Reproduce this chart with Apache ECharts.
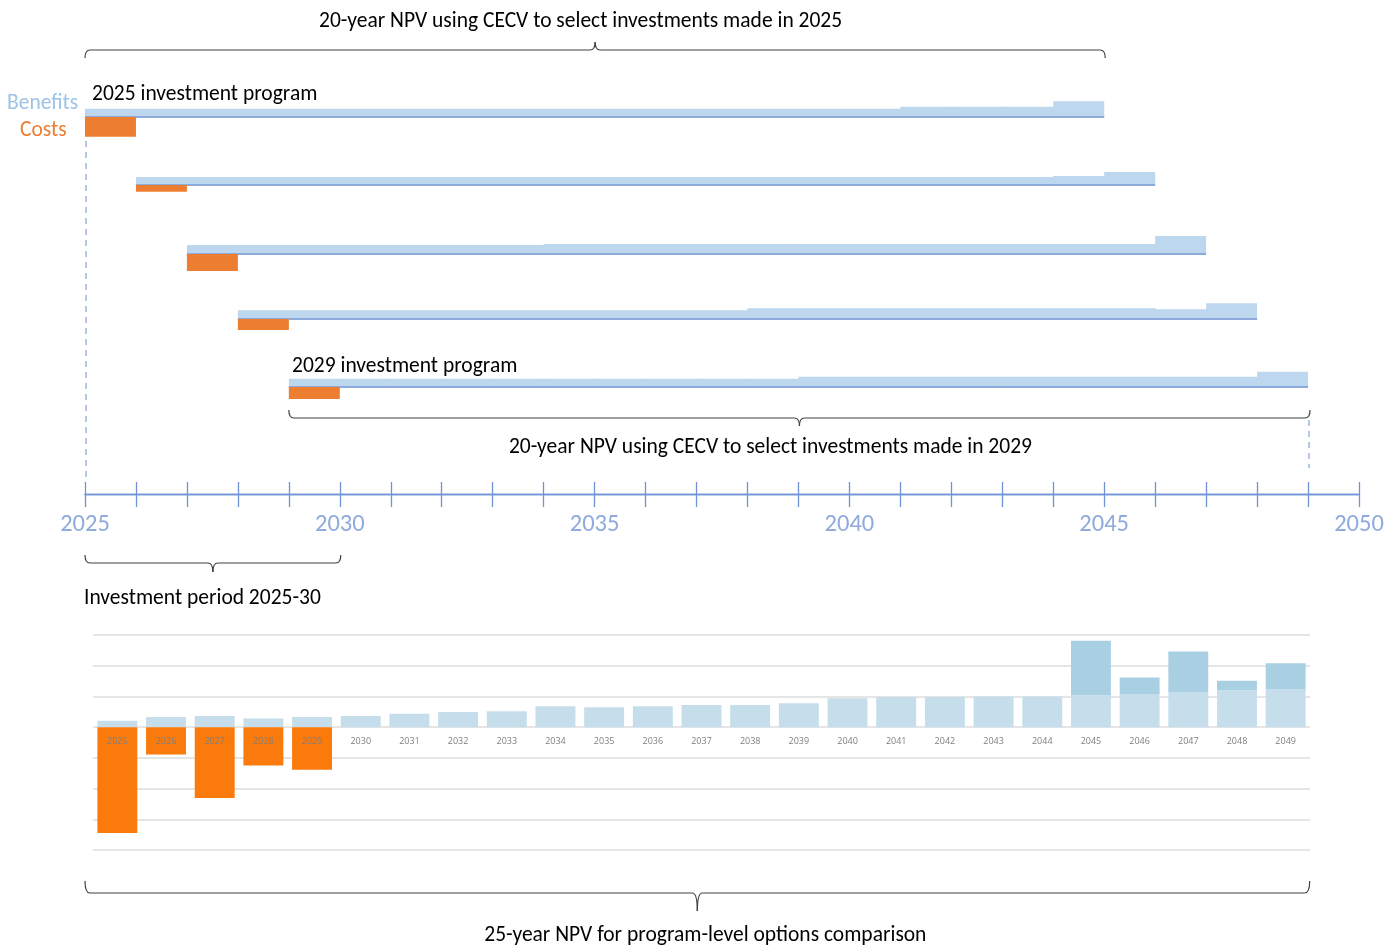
<!DOCTYPE html>
<html>
<head>
<meta charset="utf-8">
<title>Investment program NPV timeline</title>
<script src="https://cdn.jsdelivr.net/npm/echarts@6.0.0/dist/echarts.min.js"></script>
<style>
  html, body { margin: 0; padding: 0; background: #ffffff; }
  #chart { width: 1400px; height: 946px; }
</style>
</head>
<body>
<div id="chart"></div>
<script>
// ---- Timeline (years) ----
const timelineMin = 2025;
const timelineMax = 2050;
const timelineLabelStep = 5;

// ---- Investment programs: first year, yearly benefit profile (20 years), first-year cost ----
const programStarts = [2025, 2026, 2027, 2028, 2029];
const benefits2025 = [8.3, 8.3, 8.3, 8.3, 8.3, 8.3, 8.3, 8.3, 8.3, 8.3, 8.3, 8.3, 8.3, 8.3, 8.3, 8.3, 10.3, 10.3, 10.3, 15.7];
const benefits2026 = [8, 8, 8, 8, 8, 8, 8, 8, 8, 8, 8, 8, 8, 8, 8, 8, 8, 8, 9, 13];
const benefits2027 = [9, 9, 9, 9, 9, 9, 9, 10, 10, 10, 10, 10, 10, 10, 10, 10, 10, 10, 10, 18];
const benefits2028 = [8.7, 8.7, 8.7, 8.7, 8.7, 8.7, 8.7, 8.7, 8.7, 8.7, 10.7, 10.7, 10.7, 10.7, 10.7, 10.7, 10.7, 10.7, 9.7, 15.7];
const benefits2029 = [8.3, 8.3, 8.3, 8.3, 8.3, 8.3, 8.3, 8.3, 8.3, 8.3, 10.3, 10.3, 10.3, 10.3, 10.3, 10.3, 10.3, 10.3, 10.3, 15.3];
const programCosts = [19.7, 6.7, 17, 11, 12];

// ---- Program-level NPV comparison (25 years) ----
const npvYears = ['2025', '2026', '2027', '2028', '2029', '2030', '2031', '2032', '2033', '2034', '2035', '2036', '2037',
  '2038', '2039', '2040', '2041', '2042', '2043', '2044', '2045', '2046', '2047', '2048', '2049'];
const npvCosts = [-3.45, -0.89, -2.31, -1.25, -1.39, null, null, null, null, null, null, null, null,
  null, null, null, null, null, null, null, null, null, null, null, null];
const npvBenefitBase = [0.21, 0.33, 0.36, 0.28, 0.33, 0.36, 0.44, 0.49, 0.52, 0.68, 0.65, 0.68, 0.72,
  0.72, 0.78, 0.94, 0.98, 0.98, 1.0, 1.0, 1.04, 1.08, 1.13, 1.2, 1.24];
const npvBenefitExtra = [null, null, null, null, null, null, null, null, null, null, null, null, null,
  null, null, null, null, null, null, null, 1.77, 0.54, 1.33, 0.31, 0.84];
const npvAxisMin = -4, npvAxisMax = 3;

const programBenefits = [benefits2025, benefits2026, benefits2027, benefits2028, benefits2029];

// ---- Styling ----
const FONT = 'Carlito, Lato, "Open Sans", sans-serif';
const TEXT_SIZE = 21.5;
const C_BENEFIT = '#bdd7ee';
const C_BENEFIT_LINE = '#8eaadb';
const C_COST = '#ed7d31';
const C_AXIS = '#6f93d6';
const C_AXIS_LABEL = '#8faadc';
const C_BRACE = '#404040';

// Layout of the program rows (baseline of each row, in px)
const rowBaselines = [117, 185, 254, 319, 387];
const rowHalf = 25;
const plotLeft = 85, plotRight = 41;

const chart = echarts.init(document.getElementById('chart'), null, { renderer: 'canvas' });

const grids = [], xAxes = [], yAxes = [], series = [];

programStarts.forEach((start, i) => {
  grids.push({ left: plotLeft, right: plotRight, top: rowBaselines[i] - rowHalf, height: rowHalf * 2 });
  xAxes.push({ gridIndex: i, type: 'value', min: timelineMin, max: timelineMax, show: false });
  yAxes.push({ gridIndex: i, type: 'value', min: -rowHalf, max: rowHalf, show: false });

  const benefitData = programBenefits[i].map((v, k) => [start + k, v]);
  const end = start + programBenefits[i].length;

  // benefit blocks, one per year (slight overlap hides seams between years)
  series.push({
    type: 'custom', xAxisIndex: i, yAxisIndex: i, z: 3, silent: true,
    data: benefitData,
    renderItem: (params, api) => {
      const yr = api.value(0), v = api.value(1);
      const a = api.coord([yr, v]);
      const b = api.coord([yr + 1, 0]);
      const last = params.dataIndex === params.dataInsideLength - 1;
      return { type: 'rect',
        shape: { x: a[0], y: a[1], width: b[0] - a[0] + (last ? 0 : 1), height: b[1] - a[1] },
        style: { fill: C_BENEFIT } };
    }
  });
  // baseline under the benefits
  series.push({
    type: 'line', xAxisIndex: i, yAxisIndex: i, z: 4, silent: true, symbol: 'none',
    data: [[start, 0], [end, 0]],
    lineStyle: { color: C_BENEFIT_LINE, width: 2 }
  });
  // first-year cost hanging below the baseline
  series.push({
    type: 'custom', xAxisIndex: i, yAxisIndex: i, z: 5, silent: true,
    data: [[start, -programCosts[i]]],
    renderItem: (params, api) => {
      const yr = api.value(0), v = api.value(1);
      const a = api.coord([yr, 0]);
      const b = api.coord([yr + 1, v]);
      return { type: 'rect', shape: { x: a[0], y: a[1], width: b[0] - a[0], height: b[1] - a[1] },
        style: { fill: C_COST } };
    }
  });
});

// Timeline axis (ticks above and below the line)
const TL = grids.length;
grids.push({ left: plotLeft, right: plotRight, top: 494, height: 0 });
xAxes.push({
  gridIndex: TL, type: 'value', position: 'bottom', min: timelineMin, max: timelineMax, interval: 1,
  axisLine: { show: true, lineStyle: { color: C_AXIS, width: 1.3 } },
  axisTick: { show: true, length: 13, lineStyle: { color: C_AXIS, width: 1.3 } },
  splitLine: { show: false },
  axisLabel: {
    color: C_AXIS_LABEL, fontSize: 24.5, fontFamily: FONT, margin: 18, showMaxLabel: true, showMinLabel: true,
    formatter: v => (v % timelineLabelStep === 0 ? String(v) : '')
  }
});
const TL_X = xAxes.length - 1;
xAxes.push({
  gridIndex: TL, type: 'value', position: 'top', min: timelineMin, max: timelineMax, interval: 1,
  axisLine: { show: true, lineStyle: { color: C_AXIS, width: 1.3 } },
  axisTick: { show: true, length: 12, lineStyle: { color: C_AXIS, width: 1.3 } },
  splitLine: { show: false }, axisLabel: { show: false }
});
yAxes.push({ gridIndex: TL, type: 'value', show: false });

// Program-level NPV bar chart; the year labels sit on the zero line
const BC = grids.length;
const bcHeight = 215;
grids.push({ left: 93, right: 90, top: 635, height: bcHeight });
const BC_X = xAxes.length;
xAxes.push({
  gridIndex: BC, type: 'category', data: npvYears, z: 10, position: 'bottom',
  offset: -bcHeight * (0 - npvAxisMin) / (npvAxisMax - npvAxisMin),
  axisLine: { show: false, onZero: false },
  axisTick: { show: false },
  axisLabel: { color: '#7f7f7f', fontSize: 9, fontFamily: '"Open Sans", sans-serif', margin: 10 }
});
const BC_Y = yAxes.length;
yAxes.push({
  gridIndex: BC, type: 'value', min: npvAxisMin, max: npvAxisMax, interval: 1,
  axisLabel: { show: false }, axisLine: { show: false }, axisTick: { show: false },
  splitLine: { show: true, lineStyle: { color: '#dcdcdc', width: 1.5 } }
});
series.push({
  type: 'bar', xAxisIndex: BC_X, yAxisIndex: BC_Y, stack: 'npv', barCategoryGap: '18%', silent: true,
  data: npvBenefitBase, itemStyle: { color: '#c6deeb' }
});
series.push({
  type: 'bar', xAxisIndex: BC_X, yAxisIndex: BC_Y, stack: 'npv', barCategoryGap: '18%', silent: true,
  data: npvBenefitExtra, itemStyle: { color: '#a9cfe2' }
});
series.push({
  type: 'bar', xAxisIndex: BC_X, yAxisIndex: BC_Y, stack: 'npv', barCategoryGap: '18%', silent: true,
  data: npvCosts, itemStyle: { color: '#fa7a0c' }
});

chart.setOption({
  animation: false,
  backgroundColor: '#ffffff',
  grid: grids, xAxis: xAxes, yAxis: yAxes, series: series
});

// ---- Annotations: braces, titles, guide lines ----
const X = yr => chart.convertToPixel({ xAxisIndex: TL_X }, yr);
const braceStyle = { stroke: C_BRACE, lineWidth: 1.2, fill: null };

// Curly brace: horizontal bar at y, ends bending to yEnd, centre point to yTip
function brace(x1, x2, y, yEnd, yTip) {
  const r = 5, m = (x1 + x2) / 2;
  const curve = (sx, sy, cx, cy, ex, ey) => ({ type: 'bezierCurve', z: 20, silent: true,
    shape: { x1: sx, y1: sy, cpx1: cx, cpy1: cy, x2: ex, y2: ey }, style: braceStyle });
  const seg = (sx, ex) => ({ type: 'line', z: 20, silent: true,
    shape: { x1: sx, y1: y, x2: ex, y2: y }, style: braceStyle });
  return [
    curve(x1, yEnd, x1, y, x1 + r, y),
    seg(x1 + r, m - r),
    curve(m - r, y, m, y, m, yTip),
    curve(m, yTip, m, y, m + r, y),
    seg(m + r, x2 - r),
    curve(x2 - r, y, x2, y, x2, yEnd)
  ];
}
function label(text, x, y, align, color) {
  return { type: 'text', x: x, y: y, z: 20, silent: true,
    style: { text: text, fill: color || '#000000', font: `${TEXT_SIZE}px ${FONT}`,
      textAlign: align || 'left', textVerticalAlign: 'middle' } };
}
function dashed(x, y1, y2) {
  return { type: 'line', shape: { x1: x, y1: y1, x2: x, y2: y2 }, z: 1, silent: true,
    style: { stroke: '#b4c7e7', lineWidth: 2, lineDash: [6, 5] } };
}

const x25 = X(2025), x29 = X(2029), x30 = X(2030), x45 = X(2045), x49 = X(2049);
const gridRight = chart.convertToPixel({ xAxisIndex: BC_X }, '2049') + 24;

chart.setOption({
  graphic: [
    dashed(x25 + 1, 141, 482),
    dashed(x49 + 1, 420, 468),
    ...brace(x25, x45 + 1, 50, 58, 42),
    label('20-year NPV using CECV to select investments made in 2025', (x25 + x45) / 2 - 14, 21.5, 'center'),
    label('Benefits', 7, 104, 'left', '#9dc3e6'),
    label('Costs', 20, 131, 'left', C_COST),
    label('2025 investment program', 92, 95),
    label('2029 investment program', 292, 367),
    ...brace(x29, x49 + 2, 418, 410, 426),
    label('20-year NPV using CECV to select investments made in 2029', (x29 + x49) / 2 - 28, 448, 'center'),
    ...brace(x25, x30 + 1, 563, 555, 572),
    label('Investment period 2025-30', 84, 599),
    ...brace(x25, gridRight, 893, 881, 911),
    label('25-year NPV for program-level options comparison', (x25 + gridRight) / 2 + 8, 936, 'center')
  ]
});
</script>
</body>
</html>
